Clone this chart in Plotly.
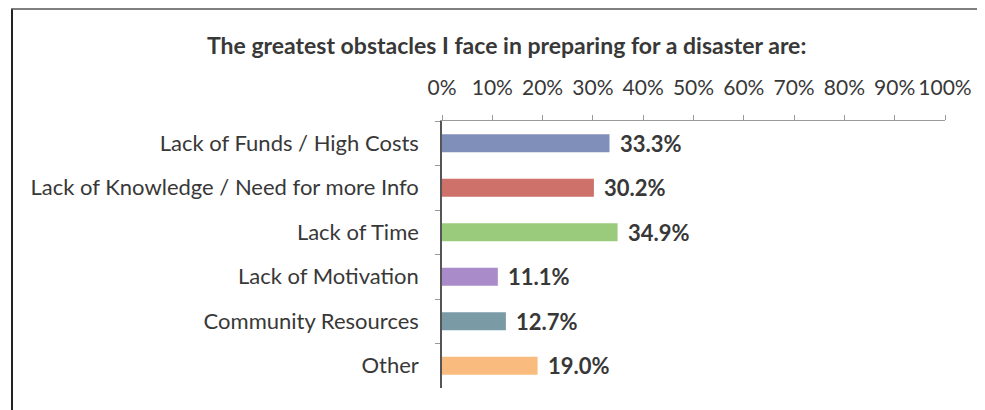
import plotly.graph_objects as go

categories = [
    "Lack of Funds / High Costs",
    "Lack of Knowledge / Need for more Info",
    "Lack of Time",
    "Lack of Motivation",
    "Community Resources",
    "Other",
]
values = [33.3, 30.2, 34.9, 11.1, 12.7, 19.0]
bar_colors = ["#7f8fba", "#cd716a", "#9aca7c", "#a98bc9", "#7a9aa6", "#f9bb7e"]
tick_vals = [0, 10, 20, 30, 40, 50, 60, 70, 80, 90, 100]
tick_text = [f"{v}%" for v in tick_vals]
title_text = "The greatest obstacles I face in preparing for a disaster are:"

FONT = "Lato"
TXT = "#383838"

W, H = 985, 410
OFF = 8  # page body offset
# desired plot area in screenshot pixels
X0, X1, Y0, Y1 = 442, 945, 121, 388
L, R, T, B = X0 - OFF, W - (X1 - OFF), Y0 - OFF, H - (Y1 - OFF)
pw, ph = W - L - R, H - T - B

def px(x):
    return (x - OFF - L) / pw

def py(y):
    return (H - B - (y - OFF)) / ph

fig = go.Figure()
fig.add_trace(go.Bar(
    x=values, y=categories, orientation="h",
    marker=dict(color=bar_colors, line=dict(width=0)),
    width=0.4, showlegend=False, hoverinfo="skip",
))

for v, c in zip(values, categories):
    fig.add_annotation(x=v, y=c, xref="x", yref="y", text=f"<b>{v:.1f}%</b>",
                       showarrow=False, xanchor="left", xshift=8,
                       font=dict(family=FONT, size=22, color=TXT))

# chart border (left and top)
fig.add_shape(type="line", xref="paper", yref="paper", x0=px(12), x1=px(12), y0=py(9), y1=py(430),
              line=dict(color="#222", width=2))
fig.add_shape(type="line", xref="paper", yref="paper", x0=px(11), x1=px(985), y0=py(9), y1=py(9),
              line=dict(color="#555", width=1.5))

fig.add_annotation(xref="paper", yref="paper", x=px(506), y=py(45), text=f"<b>{title_text}</b>",
                   showarrow=False, xanchor="center", yanchor="middle",
                   font=dict(family=FONT, size=23, color=TXT))

fig.update_layout(
    width=W, height=H,
    margin=dict(l=L, r=R, t=T, b=B, autoexpand=False),
    paper_bgcolor="white", plot_bgcolor="white",
)
fig.update_xaxes(
    range=[0, 100], side="top", tickvals=tick_vals, ticktext=tick_text,
    showgrid=False, zeroline=False, showline=True, linecolor="#9a9a9a", linewidth=1,
    ticks="outside", ticklen=5, tickcolor="#9a9a9a", ticklabelstandoff=12,
    tickangle=0,
    tickfont=dict(family=FONT, size=21, color=TXT), fixedrange=True,
)
fig.update_yaxes(
    categoryorder="array", categoryarray=categories, autorange="reversed",
    showgrid=False, zeroline=False, showline=True, linecolor="#555", linewidth=1.5,
    ticks="outside", ticklen=5, tickcolor="#9a9a9a", tickson="boundaries",
    ticklabelstandoff=17,
    tickfont=dict(family=FONT, size=22, color=TXT), fixedrange=True,
)

fig.write_html("out.html")
